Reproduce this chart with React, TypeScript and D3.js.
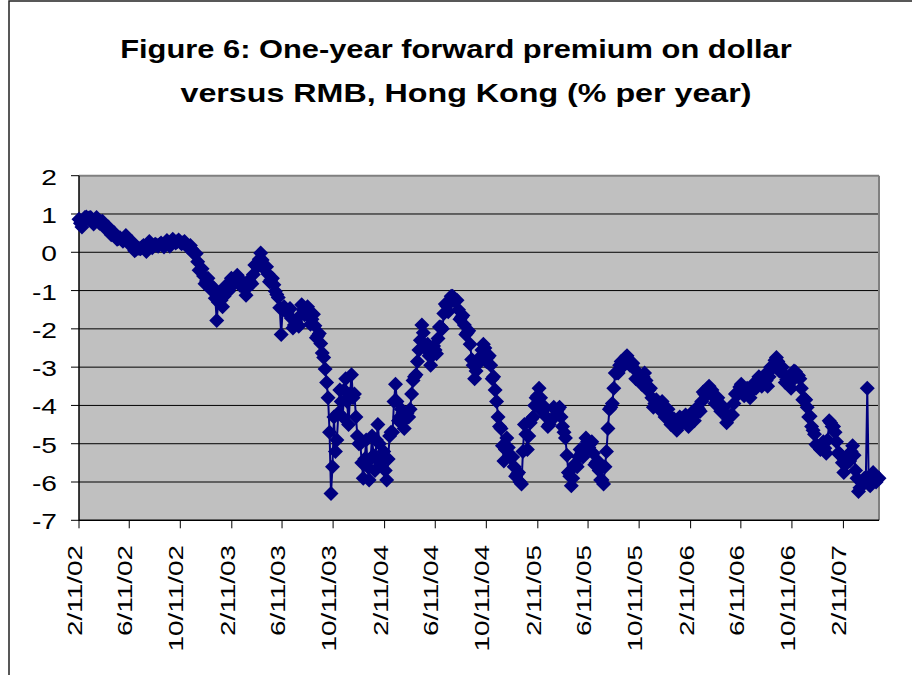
import React from 'react';
import * as d3 from 'd3';

const startDate = '2002-02-11';
const endDate = '2007-05-07';
const tickLabels = ['2/11/02', '6/11/02', '10/11/02', '2/11/03', '6/11/03', '10/11/03', '2/11/04', '6/11/04',
  '10/11/04', '2/11/05', '6/11/05', '10/11/05', '2/11/06', '6/11/06', '10/11/06', '2/11/07'];
const yTicks = [2, 1, 0, -1, -2, -3, -4, -5, -6, -7];
const titleLines = ['Figure 6: One-year forward premium on dollar', 'versus RMB, Hong Kong (% per year)'];

// readings of the forward premium (% per year) at the start of each week, from 2002-02-11
const premium = [
  0.86, 0.66, 0.91, 0.89, 0.91, 0.74, 0.91, 0.76, 0.81, 0.62,
  0.66, 0.46, 0.51, 0.34, 0.38, 0.29, 0.44, 0.22, 0.28, 0.04,
  0.11, 0.09, 0.18, 0.02, 0.28, 0.12, 0.21, 0.16, 0.24, 0.14,
  0.31, 0.16, 0.34, 0.24, 0.32, 0.22, 0.28, 0.14, 0.18, -0.01,
  -0.03, -0.47, -0.43, -0.82, -0.68, -0.97, -0.93, -1.78, -1.08, -1.42,
  -0.88, -1.02, -0.68, -0.82, -0.60, -0.87, -0.78, -1.12, -0.73, -0.82,
  -0.33, -0.37, -0.02, -0.42, -0.38, -0.77, -0.68, -1.02, -1.18, -2.15,
  -1.42, -1.58, -1.47, -1.98, -1.82, -1.93, -1.37, -1.63, -1.42, -1.88,
  -1.62, -2.23, -2.12, -2.63, -3.05, -3.80, -6.30, -4.30, -4.90, -3.60,
  -4.30, -3.30, -4.50, -3.20, -3.70, -4.80, -5.00, -5.90, -4.90, -5.95,
  -4.80, -5.70, -4.50, -5.50, -5.20, -5.95, -4.80, -4.70, -3.45, -4.40,
  -4.10, -4.60, -4.20, -4.10, -3.35, -3.20, -2.55, -1.90, -2.50, -2.40,
  -2.95, -2.45, -2.65, -1.95, -2.00, -1.35, -1.55, -1.15, -1.25, -1.25,
  -1.75, -1.65, -2.15, -2.05, -2.80, -3.30, -2.80, -2.85, -2.40, -2.85,
  -2.70, -3.30, -3.60, -4.30, -4.60, -5.45, -4.85, -5.35, -5.35, -5.85,
  -5.75, -6.05, -4.50, -5.15, -4.45, -4.30, -3.80, -3.55, -4.15, -4.05,
  -4.55, -4.40, -4.05, -4.15, -4.05, -4.55, -4.85, -5.75, -6.10, -5.55,
  -5.60, -5.15, -5.35, -4.85, -5.10, -4.95, -5.55, -5.45, -5.95, -6.05,
  -5.20, -4.10, -3.95, -3.15, -3.15, -2.85, -2.95, -2.70, -2.95, -2.90,
  -3.30, -3.25, -3.45, -3.15, -3.60, -3.55, -4.05, -3.85, -4.10, -3.90,
  -4.30, -4.10, -4.50, -4.35, -4.65, -4.30, -4.45, -4.25, -4.55, -4.20,
  -4.40, -4.05, -4.15, -3.65, -3.75, -3.50, -3.60, -3.95, -3.80, -4.15,
  -4.05, -4.45, -4.30, -4.25, -3.70, -3.70, -3.45, -3.75, -3.55, -3.80,
  -3.45, -3.55, -3.25, -3.50, -3.20, -3.50, -3.00, -3.00, -2.75, -3.10,
  -3.00, -3.40, -3.30, -3.55, -3.10, -3.20, -3.30, -3.85, -3.85, -4.30,
  -4.55, -4.75, -5.05, -5.15, -4.95, -5.25, -4.40, -4.55, -4.70, -5.25,
  -5.30, -5.75, -5.40, -5.45, -5.05, -5.70, -6.25, -6.00, -5.90, -3.55,
  -6.10, -5.75, -6.00, -5.90,
];

// mid-week readings (half a week after each of the readings above)
const premiumMidWeek = [
  0.76, 0.80, 0.92, 0.90, 0.82, 0.84, 0.82, 0.80, 0.72, 0.64,
  0.56, 0.48, 0.43, 0.36, 0.34, 0.36, 0.34, 0.25, 0.16, 0.08,
  0.10, 0.14, 0.10, 0.15, 0.20, 0.17, 0.19, 0.20, 0.19, 0.22,
  0.24, 0.25, 0.29, 0.28, 0.27, 0.25, 0.21, 0.16, 0.08, -0.05,
  -0.25, -0.45, -0.62, -0.75, -0.83, -0.95, -1.20, -1.30, -1.25, -1.15,
  -0.95, -0.85, -0.75, -0.71, -0.74, -0.82, -0.95, -0.92, -0.78, -0.58,
  -0.35, -0.18, -0.20, -0.40, -0.57, -0.72, -0.85, -1.10, -1.45, -1.50,
  -1.50, -1.52, -1.72, -1.90, -1.88, -1.65, -1.50, -1.52, -1.65, -1.75,
  -1.92, -2.18, -2.38, -2.75, -3.40, -4.70, -5.60, -5.20, -4.20, -3.90,
  -3.60, -3.90, -3.70, -3.80, -4.30, -5.00, -5.50, -5.40, -5.60, -5.40,
  -5.30, -4.90, -5.00, -5.40, -5.70, -5.40, -4.70, -3.90, -3.90, -4.30,
  -4.20, -4.35, -4.30, -3.70, -3.25, -2.85, -2.30, -2.10, -2.45, -2.70,
  -2.70, -2.55, -2.25, -1.95, -1.60, -1.40, -1.30, -1.15, -1.25, -1.50,
  -1.70, -1.90, -2.10, -2.40, -2.95, -3.10, -2.80, -2.55, -2.50, -2.75,
  -2.95, -3.25, -3.90, -4.55, -5.05, -5.15, -5.10, -5.35, -5.60, -5.80,
  -6.00, -5.20, -4.75, -4.80, -4.35, -4.00, -3.75, -3.80, -4.10, -4.30,
  -4.50, -4.35, -4.10, -4.10, -4.30, -4.70, -5.30, -5.85, -5.90, -5.55,
  -5.35, -5.25, -5.10, -4.95, -5.00, -5.25, -5.50, -5.70, -5.95, -5.60,
  -4.60, -4.05, -3.55, -3.15, -2.95, -2.90, -2.75, -2.80, -2.95, -3.05,
  -3.30, -3.35, -3.25, -3.35, -3.60, -3.80, -3.95, -3.95, -3.98, -4.10,
  -4.20, -4.30, -4.45, -4.55, -4.50, -4.35, -4.35, -4.42, -4.40, -4.30,
  -4.22, -4.10, -3.90, -3.70, -3.55, -3.60, -3.75, -3.85, -3.95, -4.08,
  -4.22, -4.35, -4.25, -3.95, -3.67, -3.52, -3.55, -3.62, -3.68, -3.62,
  -3.48, -3.38, -3.38, -3.35, -3.35, -3.25, -3.00, -2.82, -2.85, -3.02,
  -3.18, -3.32, -3.42, -3.32, -3.12, -3.22, -3.55, -3.82, -4.05, -4.28,
  -4.65, -5.02, -5.08, -5.05, -5.12, -4.90, -4.45, -4.55, -4.95, -5.25,
  -5.50, -5.55, -5.40, -5.20, -5.30, -5.90, -6.15, -6.00, -5.95, -6.05,
  -5.85, -5.85, -5.92,
];

const FONT = '"Liberation Sans", Arial, sans-serif';
const NAVY = '#000080';

type Pt = { date: Date; v: number };

export default function App() {
  const W = 912, H = 675;
  const left = 79, right = 879, top = 175.7, bottom = 520.3;
  const parse = d3.timeParse('%Y-%m-%d');
  const parseTick = d3.timeParse('%m/%d/%y');
  const t0 = parse(startDate) as Date;
  const x = d3.scaleTime().domain([t0, parse(endDate) as Date]).range([left, right]);
  const y = d3.scaleLinear().domain([-7, 2]).range([bottom, top]);
  const pts: Pt[] = [
    ...premium.map((v, i) => ({ date: d3.timeHour.offset(t0, 168 * i), v })),
    ...premiumMidWeek.map((v, i) => ({ date: d3.timeHour.offset(t0, 168 * i + 84), v })),
  ].sort((a, b) => +a.date - +b.date);
  const line = d3.line<Pt>().x(d => x(d.date)).y(d => y(d.v));
  const diamond = 'M0,-7.5L7.5,0L0,7.5L-7.5,0Z';
  const titleGeo = [
    { cx: 456, y: 58, sx: 1.186 },
    { cx: 466, y: 102, sx: 1.24 },
  ];

  return (
    <svg width={W} height={H} style={{ position: 'absolute', left: 0, top: 0, display: 'block', background: '#fff' }}>
      <rect x={9} y={1} width={920} height={700} fill="#fff" stroke="#222" strokeWidth={1.5} />
      {titleLines.map((t, i) => (
        <g key={t} transform={`translate(${titleGeo[i].cx},${titleGeo[i].y}) scale(${titleGeo[i].sx},1)`}>
          <text textAnchor="middle" fontFamily={FONT} fontWeight="bold" fontSize={26} fill="#000">{t}</text>
        </g>
      ))}
      <rect x={left} y={top} width={right - left} height={bottom - top} fill="#C0C0C0" />
      {yTicks.filter(v => v > -7 && v < 2).map(v => (
        <line key={v} x1={left} x2={right} y1={y(v)} y2={y(v)} stroke="#000" strokeWidth={1} />
      ))}
      <line x1={left} x2={right} y1={top} y2={top} stroke="#808080" strokeWidth={2} />
      <line x1={right} x2={right} y1={top} y2={bottom} stroke="#808080" strokeWidth={2} />
      <line x1={left} x2={left} y1={top} y2={bottom + 0.5} stroke="#000" strokeWidth={1.5} />
      <line x1={left} x2={right} y1={bottom} y2={bottom} stroke="#000" strokeWidth={1.5} />
      {yTicks.map(v => (
        <g key={v}>
          <line x1={left - 8} x2={left} y1={y(v)} y2={y(v)} stroke="#000" strokeWidth={1} />
          <g transform={`translate(57,${y(v) + 9}) scale(1.28,1)`}>
            <text textAnchor="end" fontFamily={FONT} fontSize={22} fill="#000">{v}</text>
          </g>
        </g>
      ))}
      {tickLabels.map(lbl => {
        const tx = x(parseTick(lbl) as Date);
        return (
          <g key={lbl}>
            <line x1={tx} x2={tx} y1={bottom} y2={bottom + 8} stroke="#000" strokeWidth={1} />
            <g transform={`translate(${tx + 3},545) rotate(-90) scale(1.33,1)`}>
              <text textAnchor="end" fontFamily={FONT} fontSize={21} fill="#000">{lbl}</text>
            </g>
          </g>
        );
      })}
      <path d={line(pts) || ''} fill="none" stroke={NAVY} strokeWidth={2} />
      {pts.map((p, i) => (
        <path key={i} d={diamond} transform={`translate(${x(p.date)},${y(p.v)})`} fill={NAVY} />
      ))}
    </svg>
  );
}
